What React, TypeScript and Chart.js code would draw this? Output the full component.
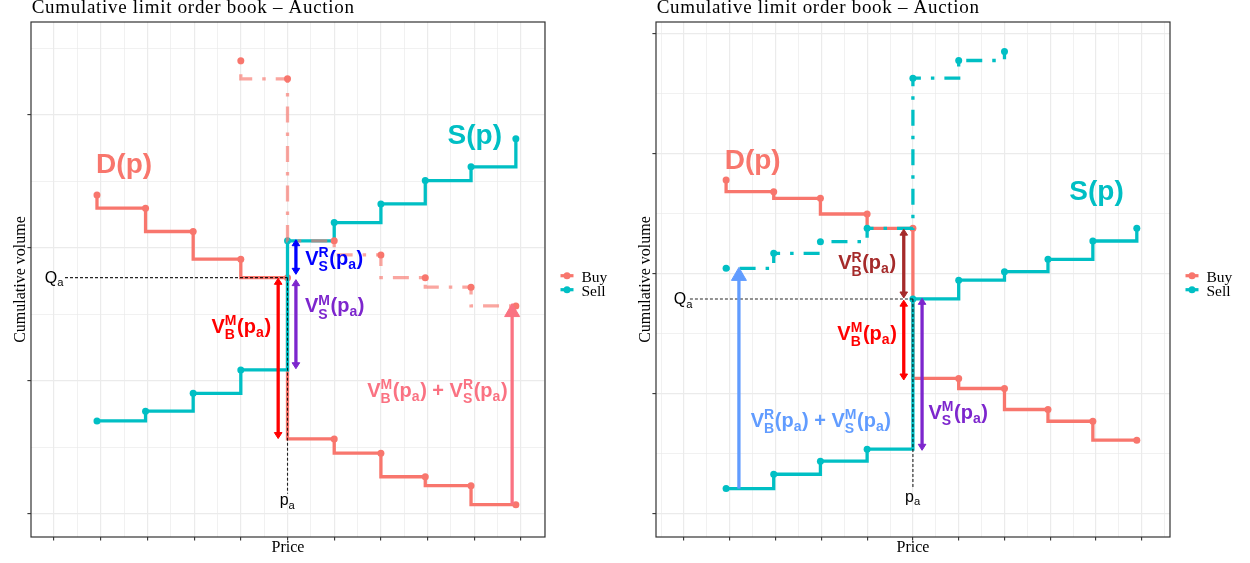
import React, { useEffect, useRef } from 'react';
import { Chart, registerables } from 'chart.js';

Chart.register(...registerables);

// ---------------- text ----------------
const TITLE = 'Cumulative limit order book – Auction';
const X_TITLE = 'Price';
const Y_TITLE = 'Cumulative volume';
const LEGEND_LABELS = ['Buy', 'Sell'];

// ---------------- axes (tick values; the reference shows no tick labels) ----------------
const X_MAJOR_TICKS = [0, 1, 2, 3, 4, 5, 6, 7, 8, 9, 10];
const X_MINOR_TICKS = [-0.5, 0.5, 1.5, 2.5, 3.5, 4.5, 5.5, 6.5, 7.5, 8.5, 9.5, 10.5];
const LEFT_Y_MAJOR = [0, 100, 200, 300];
const LEFT_Y_MINOR = [-50, 50, 150, 250, 350];
const RIGHT_Y_MAJOR = [0, 100, 200, 300, 400];
const RIGHT_Y_MINOR = [-50, 50, 150, 250, 350];
const LEFT_X_RANGE = [-0.493, 10.514];
const LEFT_Y_RANGE = [-17.5, 369.7];
const RIGHT_X_RANGE = [-0.611, 10.615];
const RIGHT_Y_RANGE = [-19.5, 409.9];

// ---------------- price levels ----------------
const PRICES = [0.92, 1.96, 2.98, 4.0, 5.0, 6.0, 7.0, 7.95, 8.93, 9.89];

// ---------------- left panel ----------------
const L_BUY = [239.7, 229.7, 212.2, 191.4, 177.5, 56.2, 45.5, 27.8, 21.1, 6.8];
const L_SELL = [69.8, 77.1, 90.5, 108.1, 205.2, 218.9, 232.9, 250.5, 260.8, 281.9];
const L_BUY_DASH_PRICES = [4.0, 5.0, 6.0, 7.0, 7.95, 8.93, 9.89];
const L_BUY_DASH = [340.6, 327.0, 205.2, 194.6, 177.5, 170.3, 156.2];
const L_PA = 5.0;
const L_QA = 177.5;
const L_QA_LINE_START = 0.235;
const L_QA_LABEL_X = 0.21;
const L_PA_LINE_END = 15;
const L_PA_LABEL_Y = 6.2;
const L_ARROW_X = [4.8, 5.18, 5.18, 9.81];
const L_ARROW_FROM = [177, 206, 176, 7];
const L_ARROW_TO = [56.5, 180, 109, 158];
const L_LABEL_X = [1.5, 9.01, 4.01, 6.0, 6.01, 8.21];
const L_LABEL_Y = [256, 277.6, 136.1, 187, 151.4, 87.9];

// ---------------- right panel ----------------
const R_BUY = [278.2, 268.4, 262.9, 249.8, 237.9, 112.7, 104.3, 86.8, 77.0, 61.2];
const R_SELL = [20.9, 32.8, 43.7, 53.7, 179.0, 194.6, 201.7, 212.0, 227.3, 237.9];
const R_SELL_DASH_PRICES = [0.92, 1.96, 2.98, 4.0, 5.0, 6.0, 7.0];
const R_SELL_DASH = [204.5, 217.0, 226.7, 237.9, 363.1, 377.8, 385.3];
const R_PA = 5.0;
const R_QA = 179.0;
const R_QA_LINE_START = 0.13;
const R_QA_LABEL_X = 0.196;
const R_PA_LINE_END = 21;
const R_PA_LABEL_Y = 9.8;
const R_ARROW_X = [4.8, 4.8, 5.2, 1.2];
const R_ARROW_FROM = [237.2, 178, 179.5, 20.9];
const R_ARROW_TO = [179.8, 111.4, 52.8, 205.3];
const R_LABEL_X = [1.5, 9.01, 4.0, 4.0, 5.99, 2.99];
const R_LABEL_Y = [287.4, 261.5, 203.7, 144.7, 79.3, 72.5];

// ---------------- math label contents ----------------
type Tok = string | { sup?: string; sub?: string };
const T_D: Tok[] = ['D(p)'];
const T_S: Tok[] = ['S(p)'];
const T_VBM: Tok[] = ['V', { sup: 'M', sub: 'B' }, '(p', { sub: 'a' }, ')'];
const T_VBR: Tok[] = ['V', { sup: 'R', sub: 'B' }, '(p', { sub: 'a' }, ')'];
const T_VSR: Tok[] = ['V', { sup: 'R', sub: 'S' }, '(p', { sub: 'a' }, ')'];
const T_VSM: Tok[] = ['V', { sup: 'M', sub: 'S' }, '(p', { sub: 'a' }, ')'];
const T_SUM_L: Tok[] = ['V', { sup: 'M', sub: 'B' }, '(p', { sub: 'a' }, ') + V', { sup: 'R', sub: 'S' }, '(p', { sub: 'a' }, ')'];
const T_SUM_R: Tok[] = ['V', { sup: 'R', sub: 'B' }, '(p', { sub: 'a' }, ') + V', { sup: 'M', sub: 'S' }, '(p', { sub: 'a' }, ')'];
const T_QA: Tok[] = ['Q', { sub: 'a' }];
const T_PA: Tok[] = ['p', { sub: 'a' }];

// ---------------- styles ----------------
const BUY_COLOR = '#F8766D';
const SELL_COLOR = '#00BFC4';
const SANS = '"Liberation Sans", Arial, sans-serif';
const SERIF = '"Liberation Serif", "Times New Roman", serif';
const SMALL_HEAD = { len: 6, half: 3.8 };
const BIG_HEAD = { len: 13, half: 7.5 };

const L_ARROW_STYLE = [
  { color: '#FF0000', both: true, head: SMALL_HEAD },
  { color: '#0000FF', both: true, head: SMALL_HEAD },
  { color: '#7D26CD', both: true, head: SMALL_HEAD },
  { color: '#FA7282', both: false, head: BIG_HEAD },
];
const R_ARROW_STYLE = [
  { color: '#A52A2A', both: true, head: SMALL_HEAD },
  { color: '#FF0000', both: true, head: SMALL_HEAD },
  { color: '#7D26CD', both: true, head: SMALL_HEAD },
  { color: '#619CFF', both: false, head: BIG_HEAD },
];
const L_LABEL_STYLE = [
  { text: T_D, color: BUY_COLOR, size: 28 },
  { text: T_S, color: SELL_COLOR, size: 28 },
  { text: T_VBM, color: '#FF0000', size: 20 },
  { text: T_VSR, color: '#0000FF', size: 20 },
  { text: T_VSM, color: '#7D26CD', size: 20 },
  { text: T_SUM_L, color: '#FA7282', size: 20 },
];
const R_LABEL_STYLE = [
  { text: T_D, color: BUY_COLOR, size: 28 },
  { text: T_S, color: SELL_COLOR, size: 28 },
  { text: T_VBR, color: '#A52A2A', size: 20 },
  { text: T_VBM, color: '#FF0000', size: 20 },
  { text: T_VSM, color: '#7D26CD', size: 20 },
  { text: T_SUM_R, color: '#619CFF', size: 20 },
];

function drawMath(ctx: any, toks: Tok[], x0: number, baseY: number, size: number, color: string, weight: string, align: string) {
  const sf = size * 0.7;
  const big = `${weight} ${size}px ${SANS}`;
  const small = `${weight} ${sf}px ${SANS}`;
  const widths = toks.map((t) => {
    if (typeof t === 'string') {
      ctx.font = big;
      return ctx.measureText(t).width;
    }
    ctx.font = small;
    return Math.max(t.sup ? ctx.measureText(t.sup).width : 0, t.sub ? ctx.measureText(t.sub).width : 0) + size * 0.03;
  });
  const total = widths.reduce((a, b) => a + b, 0);
  let x = align === 'center' ? x0 - total / 2 : align === 'right' ? x0 - total : x0;
  ctx.fillStyle = color;
  ctx.textAlign = 'left';
  ctx.textBaseline = 'alphabetic';
  toks.forEach((t, i) => {
    if (typeof t === 'string') {
      ctx.font = big;
      ctx.fillText(t, x, baseY);
    } else {
      ctx.font = small;
      if (t.sup) ctx.fillText(t.sup, x, baseY - size * 0.38);
      if (t.sub) ctx.fillText(t.sub, x, baseY + size * (t.sup ? 0.32 : 0.2));
    }
    x += widths[i];
  });
}

function drawArrow(ctx: any, x: number, yFrom: number, yTo: number, style: any) {
  const { color, both, head } = style;
  const dir = Math.sign(yTo - yFrom);
  ctx.strokeStyle = color;
  ctx.fillStyle = color;
  ctx.lineCap = 'butt';
  ctx.lineWidth = 3.3;
  ctx.beginPath();
  ctx.moveTo(x, yFrom + (both ? dir * head.len * 0.8 : 0));
  ctx.lineTo(x, yTo - dir * head.len * 0.8);
  ctx.stroke();
  const tri = (tipY: number, d: number) => {
    ctx.beginPath();
    ctx.moveTo(x, tipY);
    ctx.lineTo(x - head.half, tipY - d * head.len);
    ctx.lineTo(x + head.half, tipY - d * head.len);
    ctx.closePath();
    ctx.lineWidth = 1;
    ctx.lineJoin = 'miter';
    ctx.fill();
    ctx.stroke();
  };
  tri(yTo, dir);
  if (both) tri(yFrom, -dir);
}

function makeOverlay(p: any) {
  return {
    id: 'overlay',
    afterDatasetsDraw(chart: any) {
      const ctx = chart.ctx;
      const X = (v: number) => chart.scales.x.getPixelForValue(v);
      const Y = (v: number) => chart.scales.y.getPixelForValue(v);
      ctx.save();
      // reference lines Q_a and p_a
      ctx.setLineDash([3, 2]);
      ctx.lineWidth = 1.1;
      ctx.strokeStyle = 'rgba(0,0,0,0.85)';
      ctx.beginPath();
      ctx.moveTo(X(p.qaLineStart), Y(p.qa));
      ctx.lineTo(X(p.pa), Y(p.qa));
      ctx.moveTo(X(p.pa), Y(p.qa));
      ctx.lineTo(X(p.pa), Y(p.paLineEnd));
      ctx.stroke();
      ctx.setLineDash([]);
      drawMath(ctx, T_QA, X(p.qaLabelX), Y(p.qa) + 5.5, 16, '#000', 'normal', 'right');
      drawMath(ctx, T_PA, X(p.pa), Y(p.paLabelY), 16, '#000', 'normal', 'center');
      // arrows
      p.arrowX.forEach((ax: number, i: number) => drawArrow(ctx, X(ax), Y(p.arrowFrom[i]), Y(p.arrowTo[i]), p.arrowStyle[i]));
      // labels
      p.labelX.forEach((lx: number, i: number) => {
        const st = p.labelStyle[i];
        drawMath(ctx, st.text, X(lx), Y(p.labelY[i]), st.size, st.color, 'bold', 'center');
      });
      ctx.restore();
    },
    afterDraw(chart: any) {
      const ctx = chart.ctx;
      const a = chart.chartArea;
      ctx.save();
      // panel border
      ctx.strokeStyle = '#333333';
      ctx.lineWidth = 1.2;
      ctx.strokeRect(a.left, a.top, a.right - a.left, a.bottom - a.top);
      // title
      ctx.fillStyle = '#000';
      ctx.textAlign = 'left';
      ctx.textBaseline = 'alphabetic';
      ctx.font = `19px ${SERIF}`;
      ctx.letterSpacing = '0.7px';
      ctx.fillText(TITLE, a.left + 0.7, 13.3);
      ctx.letterSpacing = '0px';
      // axis titles
      ctx.font = `16px ${SERIF}`;
      ctx.textAlign = 'center';
      ctx.fillText(X_TITLE, (a.left + a.right) / 2, 551.7);
      ctx.save();
      ctx.translate(a.left - 6.4, (a.top + a.bottom) / 2);
      ctx.rotate(-Math.PI / 2);
      ctx.fillText(Y_TITLE, 0, 0);
      ctx.restore();
      // legend
      [BUY_COLOR, SELL_COLOR].forEach((col, i) => {
        const y = 275.7 + i * 14;
        ctx.strokeStyle = col;
        ctx.lineWidth = 3.2;
        ctx.beginPath();
        ctx.moveTo(a.right + 15.5, y);
        ctx.lineTo(a.right + 28.5, y);
        ctx.stroke();
        ctx.fillStyle = col;
        ctx.beginPath();
        ctx.arc(a.right + 22, y, 3.5, 0, Math.PI * 2);
        ctx.fill();
        ctx.fillStyle = '#000';
        ctx.textAlign = 'left';
        ctx.font = `15.5px ${SERIF}`;
        ctx.fillText(LEGEND_LABELS[i], a.right + 36.5, y + 6);
      });
      ctx.restore();
    },
  };
}

function series(xs: number[], ys: number[], color: string, pointColor: string, mode: string, order: number, dash: number[]) {
  return {
    data: xs.map((x, i) => ({ x, y: ys[i] })),
    showLine: true,
    stepped: mode,
    borderColor: color,
    backgroundColor: pointColor,
    pointBackgroundColor: pointColor,
    pointBorderWidth: 0,
    pointRadius: 3.5,
    borderWidth: 3.3,
    borderDash: dash,
    order,
  };
}

const DOTDASH = [3.5, 10, 16, 10];

const LEFT = {
  datasets: [
    series(PRICES, L_BUY, BUY_COLOR, BUY_COLOR, 'after', 4, []),
    series(PRICES, L_SELL, SELL_COLOR, SELL_COLOR, 'before', 3, []),
    series(L_BUY_DASH_PRICES, L_BUY_DASH, 'rgba(248,118,109,0.65)', BUY_COLOR, 'after', 2, DOTDASH),
  ],
  xRange: LEFT_X_RANGE, yRange: LEFT_Y_RANGE,
  yMajor: LEFT_Y_MAJOR, yMinor: LEFT_Y_MINOR,
  pa: L_PA, qa: L_QA, qaLineStart: L_QA_LINE_START, qaLabelX: L_QA_LABEL_X,
  paLineEnd: L_PA_LINE_END, paLabelY: L_PA_LABEL_Y,
  arrowX: L_ARROW_X, arrowFrom: L_ARROW_FROM, arrowTo: L_ARROW_TO, arrowStyle: L_ARROW_STYLE,
  labelX: L_LABEL_X, labelY: L_LABEL_Y, labelStyle: L_LABEL_STYLE,
};

const RIGHT = {
  datasets: [
    series(PRICES, R_BUY, BUY_COLOR, BUY_COLOR, 'after', 4, []),
    series(PRICES, R_SELL, SELL_COLOR, SELL_COLOR, 'before', 3, []),
    series(R_SELL_DASH_PRICES, R_SELL_DASH, SELL_COLOR, SELL_COLOR, 'before', 2, DOTDASH),
  ],
  xRange: RIGHT_X_RANGE, yRange: RIGHT_Y_RANGE,
  yMajor: RIGHT_Y_MAJOR, yMinor: RIGHT_Y_MINOR,
  pa: R_PA, qa: R_QA, qaLineStart: R_QA_LINE_START, qaLabelX: R_QA_LABEL_X,
  paLineEnd: R_PA_LINE_END, paLabelY: R_PA_LABEL_Y,
  arrowX: R_ARROW_X, arrowFrom: R_ARROW_FROM, arrowTo: R_ARROW_TO, arrowStyle: R_ARROW_STYLE,
  labelX: R_LABEL_X, labelY: R_LABEL_Y, labelStyle: R_LABEL_STYLE,
};

function axis(range: number[], major: number[], minor: number[], isX: boolean) {
  const all = [...major, ...minor].filter((v) => v >= range[0] && v <= range[1]).sort((a, b) => a - b);
  const isMajor = (c: any) => c && c.tick && major.includes(c.tick.value);
  return {
    type: 'linear',
    min: range[0],
    max: range[1],
    afterBuildTicks: (s: any) => {
      s.ticks = all.map((v) => ({ value: v }));
    },
    afterFit: (s: any) => {
      if (isX) s.height = 26;
      else s.width = 31;
    },
    ticks: { display: false, autoSkip: false },
    border: { display: false },
    title: { display: false },
    grid: {
      color: '#EBEBEB',
      lineWidth: (c: any) => (isMajor(c) ? 1.2 : 0.7),
      drawTicks: true,
      tickLength: 3.6,
      tickWidth: 1.1,
      tickColor: (c: any) => (isMajor(c) ? '#333333' : 'rgba(0,0,0,0)'),
    },
  };
}

function Panel({ spec }: { spec: any }) {
  const ref = useRef<HTMLCanvasElement>(null);
  useEffect(() => {
    const chart = new Chart(ref.current as any, {
      type: 'scatter',
      data: { datasets: spec.datasets },
      options: {
        animation: false,
        responsive: false,
        events: [],
        layout: { padding: { left: 0, right: 80, top: 22, bottom: 0 }, autoPadding: false },
        plugins: { legend: { display: false }, tooltip: { enabled: false }, title: { display: false } },
        scales: {
          x: axis(spec.xRange, X_MAJOR_TICKS, X_MINOR_TICKS, true),
          y: axis(spec.yRange, spec.yMajor, spec.yMinor, false),
        },
      } as any,
      plugins: [makeOverlay(spec)],
    } as any);
    return () => chart.destroy();
  }, [spec]);
  return <canvas ref={ref} width={625} height={563} style={{ display: 'block', width: 625, height: 563 }} />;
}

export default function App() {
  return (
    <div style={{ position: 'absolute', left: 0, top: 0, width: 1250, height: 563, display: 'flex', background: '#ffffff' }}>
      <Panel spec={LEFT} />
      <Panel spec={RIGHT} />
    </div>
  );
}
